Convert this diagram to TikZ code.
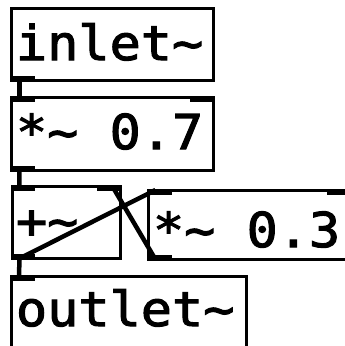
\documentclass[tikz,border=0pt]{standalone}
\usepackage{fontspec}
\usetikzlibrary{calc}
\newfontfamily\pdfont{DejaVu Sans Mono}[FakeStretch=1.08,FakeBold=2.2]
\begin{document}
\begin{tikzpicture}[x=1pt,y=-1pt,
  objbox/.style={draw=black,line width=3pt,fill=none,rectangle,inner sep=0pt,outer sep=0pt},
  objtext/.style={anchor=base west,inner sep=0pt,outer sep=0pt,font=\pdfont\fontsize{48}{48}\selectfont},
  nub/.style={fill=black},
  sigwire/.style={draw=black,line width=4.5pt}]
\useasboundingbox (0,0) rectangle (345,346);
\clip (0,0) rectangle (345,346);
\fill[white] (0,0) rectangle (345,346);

% object boxes (border centre lines)
\node[objbox,minimum width=201.5pt,minimum height=71.5pt] (inl)  at (112.5,44.5)  {};
\node[objbox,minimum width=201.5pt,minimum height=72.5pt] (mula) at (112.5,133.75) {};
\node[objbox,minimum width=108pt,minimum height=72pt]     (add)  at (66,222.5)    {};
\node[objbox,minimum width=201.5pt,minimum height=69.5pt] (mulb) at (249.25,224.75) {};
\node[objbox,minimum width=235pt,minimum height=74pt]     (outl) at (129,313)     {};

% object texts
\node[objtext] (inlt)  at (16,60)  {inlet\char`~};
\node[objtext] (mulat) at (16,149) {*\char`~{} 0.7};
\node[objtext] (addt)  at (16,238) {+\char`~};
\node[objtext] (mulbt) at (153,247) {*\char`~{} 0.3};
\node[objtext] (outlt) at (16,326) {outlet\char`~};

% inlets (top) and outlets (bottom)
\fill[nub] ($(inl.south west)+(0,1.5)$) rectangle ++(23,-6);
\fill[nub] ($(mula.north west)+(0,-1.5)$) rectangle ++(23,6);
\fill[nub] ($(mula.north east)+(0,-1.5)$) rectangle ++(-23,6);
\fill[nub] ($(mula.south west)+(0,1.5)$) rectangle ++(23,-6);
\fill[nub] ($(add.north west)+(0,-1.5)$) rectangle ++(23,6);
\fill[nub] ($(add.north east)+(0,-1.5)$) rectangle ++(-23,6);
\fill[nub] ($(add.south west)+(0,1.5)$) rectangle ++(23,-6);
\fill[nub] ($(mulb.north west)+(0,-1.5)$) rectangle ++(23,6);
\fill[nub] ($(mulb.north east)+(0,-1.5)$) rectangle ++(-23,6);
\fill[nub] ($(mulb.south west)+(0,1.5)$) rectangle ++(23,-6);
\fill[nub] ($(outl.north west)+(0,-1.5)$) rectangle ++(23,6);

% signal connections
\draw[sigwire] ($(inl.south west)+(7.5,0)$) -- ($(mula.north west)+(7.5,0)$);
\draw[sigwire] ($(mula.south west)+(7.5,0)$) -- ($(add.north west)+(7.5,0)$);
\draw[sigwire] ($(add.south west)+(7.5,0)$) -- ($(outl.north west)+(7.5,0)$);
\draw[sigwire] ($(add.south west)+(7.5,0)$) -- ($(mulb.north west)+(7,0)$);
\draw[sigwire] ($(mulb.south west)+(7,0)$) -- ($(add.north east)+(-7.5,0)$);
\end{tikzpicture}
\end{document}
